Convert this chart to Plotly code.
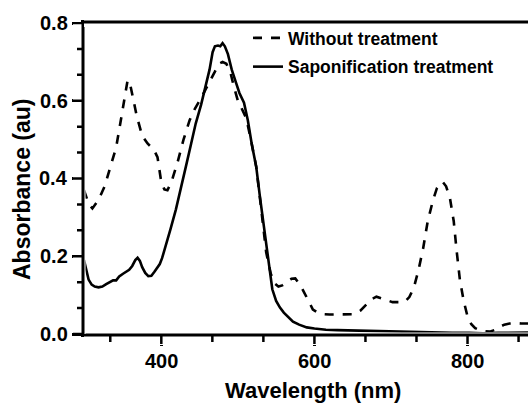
import plotly.graph_objects as go

# ---- data ----
wl_without = [299, 305, 310, 318, 326, 334, 341, 348, 353, 356, 359, 363, 368, 375, 382, 390, 395, 400,
              404, 408, 413, 421, 429, 437, 444, 450, 457, 463, 470, 475, 480, 485, 490, 495, 500, 505,
              511, 517, 524, 530, 537, 543, 548, 553, 558, 565, 570, 575, 580, 585, 592, 598, 605, 612,
              620, 630, 640, 652, 660, 668, 675, 681, 688, 695, 702, 710, 718, 724, 730, 736, 742, 748,
              755, 760, 765, 768, 772, 777, 782, 786, 790, 795, 800, 805, 810, 816, 822, 829, 835, 842,
              848, 855, 862, 870, 879]
abs_without = [0.37, 0.335, 0.323, 0.345, 0.38, 0.43, 0.48, 0.56, 0.62, 0.653, 0.645, 0.61, 0.56, 0.51,
               0.49, 0.475, 0.455, 0.39, 0.372, 0.37, 0.39, 0.44, 0.50, 0.55, 0.58, 0.60, 0.625, 0.65,
               0.675, 0.695, 0.70, 0.695, 0.675, 0.635, 0.60, 0.58, 0.555, 0.50, 0.43, 0.33, 0.21, 0.155,
               0.13, 0.122, 0.125, 0.135, 0.142, 0.143, 0.13, 0.113, 0.085, 0.063, 0.054, 0.051, 0.05,
               0.05, 0.05, 0.051, 0.06, 0.076, 0.09, 0.096, 0.092, 0.086, 0.082, 0.082, 0.083, 0.095,
               0.12, 0.165, 0.22, 0.29, 0.345, 0.375, 0.39, 0.39, 0.38, 0.35, 0.29, 0.21, 0.14, 0.085,
               0.045, 0.025, 0.015, 0.01, 0.007, 0.006, 0.01, 0.018, 0.024, 0.027, 0.028, 0.027, 0.027]

wl_sapon = [299, 302, 305, 309, 313, 318, 323, 328, 333, 337, 341, 345, 350, 354, 358, 362, 366, 369,
            372, 375, 379, 383, 387, 391, 395, 398, 401, 405, 412, 419, 426, 432, 439, 445, 452, 458,
            463, 467, 470, 474, 477, 480, 483, 487, 492, 497, 502, 508, 513, 518, 524, 529, 535, 540,
            545, 550, 555, 560, 566, 572, 580, 590, 600, 615, 630, 650, 670, 694, 720, 750, 780, 802,
            820, 840, 860, 879]
abs_sapon = [0.19, 0.165, 0.14, 0.127, 0.122, 0.12, 0.122, 0.128, 0.133, 0.138, 0.138, 0.148, 0.155,
             0.16, 0.165, 0.175, 0.19, 0.196, 0.188, 0.172, 0.157, 0.149, 0.15, 0.16, 0.17, 0.18, 0.195,
             0.22, 0.27, 0.32, 0.375, 0.43, 0.49, 0.542, 0.59, 0.636, 0.68, 0.725, 0.74, 0.742, 0.74,
             0.748, 0.74, 0.72, 0.68, 0.65, 0.62, 0.595, 0.55, 0.49, 0.43, 0.35, 0.26, 0.19, 0.115,
             0.085, 0.068, 0.055, 0.043, 0.032, 0.024, 0.017, 0.014, 0.011, 0.01, 0.009, 0.008, 0.006,
             0.005, 0.004, 0.003, 0.003, 0.002, 0.003, 0.004, 0.004]

series_names = ["Without treatment", "Saponification treatment"]
x_range = [299, 879]
y_range = [0, 0.8]
x_major_ticks = [400, 600, 800]
x_tick_labels = ["400", "600", "800"]
x_minor_ticks = [333.33, 466.67, 533.33, 666.67, 733.33, 866.67]
y_major_ticks = [0.0, 0.2, 0.4, 0.6, 0.8]
y_tick_labels = ["0.0", "0.2", "0.4", "0.6", "0.8"]
y_minor_ticks = [0.0667, 0.1333, 0.2667, 0.3333, 0.4667, 0.5333, 0.6667, 0.7333]
x_title = "Wavelength (nm)"
y_title = "Absorbance (au)"

FONT = "Liberation Sans, Arial, sans-serif"
INK = "black"

# ---- geometry (pixels) ----
W, H = 529, 403
M = dict(l=10, r=1, t=10, b=10)
PW = W - M["l"] - M["r"]
PH = H - M["t"] - M["b"]


def fx(px):
    return (px - M["l"]) / PW


def fy(py):
    return (H - M["b"] - py) / PH


LEFT, RIGHT, TOP, BOTTOM = 84, W - M["r"], 23, 334
main_xdom = [fx(LEFT), fx(RIGHT)]
main_ydom = [fy(BOTTOM), fy(TOP)]

fig = go.Figure()
fig.add_trace(go.Scatter(x=wl_without, y=abs_without, mode="lines", name=series_names[0],
                         legendgroup="a", line=dict(color=INK, width=2.6, dash="dash")))
fig.add_trace(go.Scatter(x=wl_sapon, y=abs_sapon, mode="lines", name=series_names[1],
                         legendgroup="b", line=dict(color=INK, width=2.6)))


def tick_segments(vals, start, end):
    pos, off = [], []
    for v in vals:
        pos += [v, v, None]
        off += [start, end, None]
    return pos, off


frame = dict(mode="lines", showlegend=False, hoverinfo="skip")
# bottom axis line and x ticks (strip subplot sharing the x scale)
fig.add_trace(go.Scatter(x=x_range, y=[-1, -1], xaxis="x2", yaxis="y2",
                         line=dict(color=INK, width=3), **frame))
px_, py_ = tick_segments(x_major_ticks, -1, -10)
fig.add_trace(go.Scatter(x=px_, y=py_, xaxis="x2", yaxis="y2", line=dict(color=INK, width=2.5), **frame))
px_, py_ = tick_segments(x_minor_ticks, -1, -8)
fig.add_trace(go.Scatter(x=px_, y=py_, xaxis="x2", yaxis="y2", line=dict(color=INK, width=2.5), **frame))
# left axis line and y ticks (strip subplot sharing the y scale)
fig.add_trace(go.Scatter(x=[-1, -1], y=y_range, xaxis="x3", yaxis="y3",
                         line=dict(color=INK, width=3), **frame))
py_, px_ = tick_segments(y_major_ticks, -1, -11)
fig.add_trace(go.Scatter(x=px_, y=py_, xaxis="x3", yaxis="y3", line=dict(color=INK, width=2.5), **frame))
py_, px_ = tick_segments(y_minor_ticks, -1, -7)
fig.add_trace(go.Scatter(x=px_, y=py_, xaxis="x3", yaxis="y3", line=dict(color=INK, width=2.5), **frame))
# top frame line
fig.add_trace(go.Scatter(x=x_range, y=[1, 1], xaxis="x4", yaxis="y4",
                         line=dict(color=INK, width=3), **frame))

label_font = dict(family=FONT, size=20, weight="bold", color=INK)
hidden = dict(visible=False, showgrid=False, zeroline=False, automargin=False, fixedrange=True)

annotations = []
# tick labels placed through the axes' own scales
for v, t in zip(x_major_ticks, x_tick_labels):
    annotations.append(dict(text=t, xref="x", x=v, yref="paper", y=fy(361), xanchor="center",
                            yanchor="middle", showarrow=False, font=label_font))
for v, t in zip(y_major_ticks, y_tick_labels):
    annotations.append(dict(text=t, yref="y", y=v, xref="paper", x=fx(70), xanchor="right",
                            yanchor="middle", showarrow=False, font=label_font))
annotations += [
    dict(text=x_title, xref="paper", yref="paper", x=fx(313), y=fy(390),
         xanchor="center", yanchor="middle", showarrow=False,
         font=dict(family=FONT, size=22, weight="bold", color=INK)),
    dict(text=y_title, xref="paper", yref="paper", x=fx(22), y=fy(190),
         xanchor="center", yanchor="middle", textangle=-90, showarrow=False,
         font=dict(family=FONT, size=23, weight="bold", color=INK)),
]

fig.update_layout(
    width=W, height=H,
    margin=M,
    paper_bgcolor="white", plot_bgcolor="white",
    showlegend=True, hovermode=False,
    legend=dict(x=fx(248), y=fy(20), xanchor="left", yanchor="top", bgcolor="rgba(0,0,0,0)",
                traceorder="grouped", tracegroupgap=3,
                font=dict(family=FONT, size=17.5, weight="bold", color=INK)),
    xaxis=dict(domain=main_xdom, anchor="y", range=x_range, tickvals=x_major_ticks, showticklabels=False,
               ticks="outside", ticklen=9, tickwidth=3, tickcolor=INK, showline=True, linecolor=INK,
               linewidth=3, mirror=True, showgrid=False, zeroline=False, automargin=False),
    yaxis=dict(domain=main_ydom, anchor="x", range=y_range, tickvals=y_major_ticks, showticklabels=False,
               ticks="outside", ticklen=9, tickwidth=3, tickcolor=INK, showline=True, linecolor=INK,
               linewidth=3, showgrid=False, zeroline=False, automargin=False),
    xaxis2=dict(domain=main_xdom, anchor="y2", range=x_range, **hidden),
    yaxis2=dict(domain=[fy(BOTTOM + 11), fy(BOTTOM - 1.5)], anchor="x2", range=[-11, 1.5], **hidden),
    xaxis3=dict(domain=[fx(LEFT - 11), fx(LEFT + 1.5)], anchor="y3", range=[-11, 1.5], **hidden),
    yaxis3=dict(domain=main_ydom, anchor="x3", range=y_range, **hidden),
    xaxis4=dict(domain=main_xdom, anchor="y4", range=x_range, **hidden),
    yaxis4=dict(domain=[fy(TOP + 4), fy(TOP - 4)], anchor="x4", range=[-4, 4], **hidden),
    annotations=annotations,
)

fig.write_html("out.html")
